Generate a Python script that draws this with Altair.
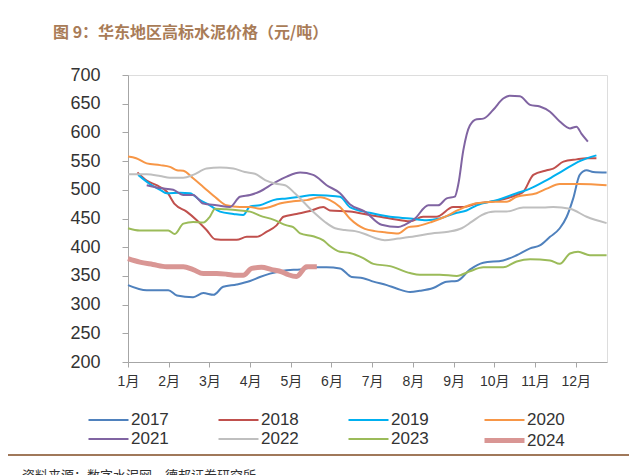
import altair as alt
import pandas as pd

years = ["2017", "2018", "2019", "2020", "2021", "2022", "2023", "2024"]
colors = ["#4F81BD", "#C0504D", "#00B0F0", "#F79646", "#8064A2", "#BFBFBF", "#9BBB59", "#D99694"]
widths = [2, 2, 2, 2, 2, 2, 2, 5]
month_labels = ["1月", "2月", "3月", "4月", "5月", "6月", "7月", "8月", "9月", "10月", "11月", "12月"]

x2017 = [0, 0.46, 0.99, 1.2, 1.6, 1.85, 2.1, 2.34, 2.67, 3.0, 3.24, 3.49, 3.9, 4.23, 4.55, 4.88, 5.21, 5.5, 5.78, 6.03, 6.36, 6.6, 6.93, 7.17, 7.5, 7.83, 8.08, 8.4, 8.73, 9.22, 9.55, 9.88, 10.12, 10.37, 10.61, 10.78, 10.94, 11.1, 11.27, 11.43, 11.76]
v2017 = [334, 325, 325, 316, 313, 320, 317, 331, 335, 341, 348, 354, 360, 361, 365, 365, 363, 348, 346, 340, 334, 328, 322, 324, 329, 340, 341, 361, 373, 377, 386, 398, 403, 418, 433, 453, 485, 526, 534, 531, 530]

x2018 = [0.23, 0.46, 0.7, 0.95, 1.15, 1.44, 1.69, 1.93, 2.14, 2.42, 2.67, 2.92, 3.16, 3.41, 3.65, 3.82, 4.14, 4.47, 4.8, 4.96, 5.45, 5.94, 6.44, 6.93, 7.25, 7.58, 7.99, 8.24, 8.57, 9.06, 9.55, 9.72, 9.96, 10.29, 10.45, 10.7, 11.02, 11.27, 11.51]
v2018 = [530, 516, 508, 497, 475, 462, 447, 430, 414, 413, 413, 418, 418, 427, 438, 453, 458, 463, 470, 464, 462, 456, 450, 445, 453, 453, 470, 470, 476, 481, 491, 497, 526, 534, 537, 549, 553, 555, 555]

x2019 = [0.25, 0.54, 0.79, 0.95, 1.28, 1.52, 1.77, 2.01, 2.26, 2.59, 2.83, 3.0, 3.24, 3.57, 3.9, 4.23, 4.55, 4.88, 5.21, 5.45, 5.94, 6.44, 6.93, 7.34, 7.66, 8.08, 8.32, 8.57, 9.06, 9.55, 9.88, 10.29, 10.7, 11.1, 11.51]
v2019 = [526, 510, 500, 494, 495, 494, 482, 473, 462, 458, 456, 471, 473, 482, 485, 488, 491, 490, 488, 470, 460, 453, 450, 447, 450, 460, 464, 473, 482, 494, 502, 517, 534, 550, 560]

x2020 = [0, 0.2, 0.46, 0.79, 1.03, 1.2, 1.36, 1.6, 1.85, 2.18, 2.42, 2.75, 3.0, 3.24, 3.49, 3.73, 4.06, 4.39, 4.72, 4.96, 5.21, 5.45, 5.82, 6.07, 6.31, 6.64, 6.89, 7.13, 7.46, 7.79, 8.12, 8.53, 9.02, 9.3, 9.55, 10.04, 10.29, 10.61, 11.1, 11.76]
v2020 = [558, 555, 546, 543, 540, 534, 533, 520, 505, 485, 473, 470, 470, 467, 470, 476, 480, 482, 487, 482, 470, 450, 432, 428, 426, 424, 435, 437, 444, 453, 465, 476, 479, 479, 488, 494, 502, 510, 510, 508]

x2021 = [0.46, 0.79, 1.11, 1.36, 1.6, 1.85, 2.18, 2.51, 2.75, 3.0, 3.24, 3.57, 3.9, 4.23, 4.55, 4.88, 5.21, 5.45, 5.82, 6.23, 6.64, 6.8, 7.05, 7.38, 7.62, 7.83, 8.03, 8.12, 8.24, 8.4, 8.57, 8.73, 8.97, 9.22, 9.38, 9.63, 9.88, 10.12, 10.37, 10.61, 10.86, 11.02, 11.14, 11.3]
v2021 = [508, 503, 500, 491, 491, 476, 473, 470, 488, 491, 497, 511, 523, 530, 526, 508, 494, 475, 462, 439, 435, 439, 450, 473, 473, 485, 488, 511, 569, 612, 623, 624, 639, 659, 664, 663, 648, 645, 636, 619, 607, 610, 598, 584]

x2022 = [0, 0.46, 0.79, 1.03, 1.36, 1.6, 1.93, 2.26, 2.59, 2.87, 3.12, 3.37, 3.61, 3.86, 4.1, 4.35, 4.59, 4.84, 5.09, 5.33, 5.58, 5.82, 6.07, 6.31, 6.64, 7.05, 7.46, 7.87, 8.2, 8.44, 8.69, 9.02, 9.3, 9.71, 10.2, 10.45, 10.86, 11.27, 11.76]
v2022 = [527, 527, 524, 521, 521, 526, 537, 539, 537, 531, 528, 517, 511, 508, 494, 476, 459, 444, 433, 430, 428, 423, 416, 412, 415, 419, 424, 427, 433, 444, 456, 462, 462, 469, 469, 470, 467, 453, 442]

x2023 = [0, 0.29, 0.79, 0.99, 1.15, 1.36, 1.6, 1.85, 2.01, 2.14, 2.42, 2.75, 3.0, 3.24, 3.57, 3.9, 4.06, 4.23, 4.55, 4.8, 4.96, 5.21, 5.45, 5.78, 6.03, 6.44, 6.93, 7.17, 7.66, 8.08, 8.4, 8.73, 9.22, 9.55, 9.88, 10.37, 10.61, 10.86, 11.06, 11.35, 11.76]
v2023 = [433, 429, 429, 429, 423, 441, 444, 443, 453, 467, 466, 464, 462, 455, 448, 438, 435, 424, 419, 412, 402, 392, 390, 381, 371, 367, 355, 352, 352, 350, 358, 365, 365, 375, 379, 377, 371, 389, 392, 386, 386]

x2024 = [0, 0.29, 0.61, 0.95, 1.36, 1.6, 1.85, 2.18, 2.42, 2.67, 2.83, 3.04, 3.28, 3.53, 3.78, 3.94, 4.14, 4.39, 4.64]
v2024 = [380, 374, 370, 366, 366, 361, 354, 354, 353, 351, 351, 363, 365, 361, 357, 352, 349, 366, 366]

series_x = [x2017, x2018, x2019, x2020, x2021, x2022, x2023, x2024]
series_v = [v2017, v2018, v2019, v2020, v2021, v2022, v2023, v2024]

rows = []
for yr, xs, vs in zip(years, series_x, series_v):
    for i, (xm, v) in enumerate(zip(xs, vs)):
        rows.append({"year": yr, "m": xm, "v": v, "i": i})
df = pd.DataFrame(rows)

FONT = "Liberation Sans, Noto Sans CJK SC"

legend_kw = dict(
    orient="none", legendX=-42, legendY=334, columns=4, title=None,
    symbolType="M-1,0H3", symbolSize=400, labelFontSize=17,
    labelFont=FONT, labelColor="#333333", columnPadding=45,
    rowPadding=-1, labelOffset=20, direction="horizontal",
)

lines = alt.Chart(df).mark_line(interpolate="monotone").encode(
    x=alt.X("m:Q", scale=alt.Scale(domain=[0, 11.77], nice=False, zero=False),
            axis=alt.Axis(values=list(range(12)),
                          labelExpr="datum.value + 1 + '月'",
                          title=None, grid=False, tickSize=5, labelFontSize=14,
                          labelFont=FONT, labelColor="#333333", domainColor="#A6A6A6",
                          tickColor="#A6A6A6", labelPadding=7, labelFlush=False)),
    y=alt.Y("v:Q", scale=alt.Scale(domain=[200, 700], nice=False, zero=False),
            axis=alt.Axis(values=list(range(200, 701, 50)), title=None, grid=False,
                          tickSize=6, labelFontSize=18, labelFont=FONT,
                          labelColor="#333333", domainColor="#A6A6A6",
                          tickColor="#A6A6A6", labelPadding=22)),
    color=alt.Color("year:N", scale=alt.Scale(domain=years, range=colors),
                    legend=alt.Legend(**legend_kw)),
    strokeWidth=alt.StrokeWidth("year:N",
                                scale=alt.Scale(type="ordinal", domain=years, range=widths),
                                legend=alt.Legend(**legend_kw)),
    order=alt.Order("i:Q"),
)

sep = alt.Chart(pd.DataFrame({"a": [0]})).mark_rule(color="#A0785A", strokeWidth=2).encode(
    x=alt.value(-120), x2=alt.value(509), y=alt.value(380)
)

source = alt.Chart(pd.DataFrame({"t": ["资料来源：数字水泥网，德邦证券研究所"]})).mark_text(
    align="left", baseline="middle", fontSize=13, font="Noto Sans CJK SC", color="#333333"
).encode(text="t:N", x=alt.value(-106), y=alt.value(401))

chart = alt.layer(lines, sep, source).properties(
    width=479, height=287,
    padding={"left": 120, "top": 67, "right": 22, "bottom": 115},
    autosize=alt.AutoSizeParams(type="none"),
    title=alt.TitleParams(text="图 9：华东地区高标水泥价格（元/吨）", anchor="start",
                          frame="group", fontSize=16, fontWeight="bold", color="#A97C57",
                          font="Noto Sans CJK SC", dx=-75, offset=25),
).configure_view(stroke=None).configure(background="white")

chart.save("out.html", embed_options={"renderer": "svg", "actions": False})
